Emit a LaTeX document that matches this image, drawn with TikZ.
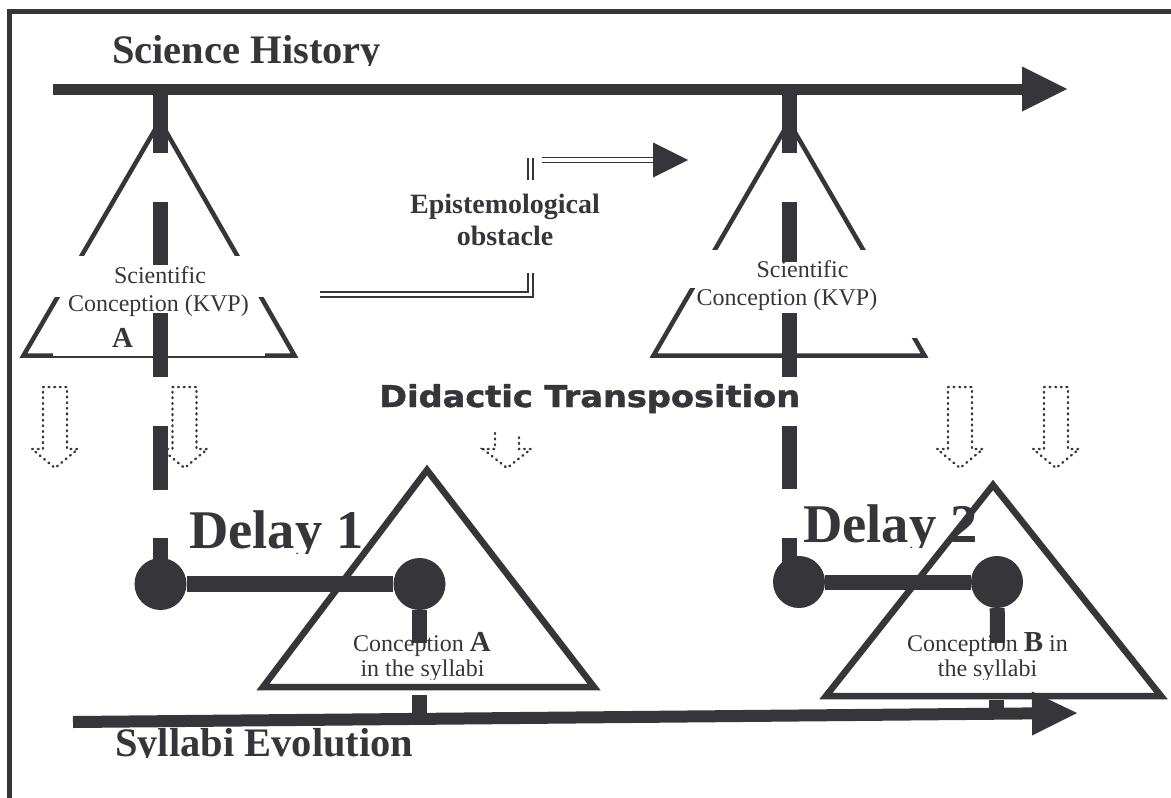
\documentclass[tikz,border=0pt]{standalone}
\usepackage{fontspec}
\setmainfont{Liberation Serif}
\newfontfamily\heavysans[FakeBold=1.4]{DejaVu Sans Bold}
\usepackage{graphicx}
\usetikzlibrary{arrows.meta}
\definecolor{ink}{RGB}{54,53,58}
\tikzset{
  lbl/.style={inner sep=0pt, text=ink},
  titletext/.style={lbl, anchor=base west, font=\bfseries\fontsize{40.5}{48}\selectfont},
  delaytext/.style={lbl, anchor=base west, font=\bfseries\fontsize{54.5}{60}\selectfont},
  conctext/.style={lbl, anchor=base, font=\fontsize{24}{28}\selectfont},
  obstext/.style={lbl, anchor=base, font=\bfseries\fontsize{28}{32}\selectfont},
  bigletter/.style={lbl, anchor=base, font=\bfseries\fontsize{29}{32}\selectfont},
  didtext/.style={lbl, anchor=base west, font=\heavysans\fontsize{30}{34}\selectfont},
  axisarrow/.style={draw=ink, line width=11pt, -{Triangle[length=45pt,width=45pt,line width=0pt]}},
  vbar/.style={draw=ink, line width=15pt},
  sidestroke/.style={draw=ink, line width=4.5pt, miter limit=20},
  bigtri/.style={draw=ink, line width=6.5pt, miter limit=20},
  dbl/.style={draw=ink, double=white, line width=1.8pt, double distance=3.2pt},
  dotline/.style={draw=ink, line width=2.4pt, dash pattern=on 0.9pt off 4.7pt, line cap=round},
  hub/.style={circle, fill=ink, minimum size=52pt, inner sep=0pt},
  hollowarrow/.pic={\path[dotline] (-12,0) -- (12,0) -- (12,62) -- (23,62) -- (0,81) -- (-23,62) -- (-12,62) -- cycle;}
}
\begin{document}
\begin{tikzpicture}[x=1pt,y=-1pt]
\useasboundingbox (0,0) rectangle (1171,798);
\clip (0,0) rectangle (1171,798);
% frame
\coordinate (fr1) at (9.5,830);
\coordinate (fr2) at (9.5,11);
\coordinate (fr3) at (1200,11);
\draw[ink, line width=5pt] (fr1) -- (fr2) -- (fr3);

% Science history axis
\begin{scope}
\clip (90,15) rectangle (420,65.5);
\node[titletext] (sh) at (112,63.5) {Science History};
\end{scope}
\coordinate (sh0) at (53,89);
\coordinate (sh1) at (1067,89);
\draw[axisarrow] (sh0) -- (sh1);

% upper left triangle
\draw[sidestroke] (53,355.5) -- (23.5,355.5) -- (160,121) -- (294.5,355.5) -- (265,355.5);
\draw[ink, line width=2pt] (53,356.5) -- (265,356.5);
\fill[white] (46,256) rectangle (272,297);
% upper right triangle
\draw[sidestroke] (653.5,355.5) -- (789,122) -- (924.5,355.5) -- cycle;
\fill[white] (668,250) rectangle (935,288);
\fill[white] (850,287) rectangle (935,338);

% dashed vertical bars
\node[hub] (c1l) at (160.5,584) {};
\node[hub] (c1r) at (419.5,584) {};
\node[hub] (c2l) at (799,582) {};
\node[hub] (c2r) at (997,582) {};
\coordinate (lb0) at (160,94);
\coordinate (lb1) at (160,584);
\draw[vbar, dash pattern=on 59pt off 49pt on 63pt off 48pt on 64pt off 49pt on 64pt off 48pt] (lb0) -- (lb1);
\coordinate (rb0) at (789.5,94);
\coordinate (rb1) at (789.5,575);
\draw[vbar, dash pattern=on 59pt off 49pt on 60pt off 51pt on 64pt off 49pt on 63pt off 49pt] (rb0) -- (rb1);

% scientific conception texts
\node[conctext] (sc1a) at (160,283) {Scientific};
\node[conctext] (sc1b) at (158.5,311) {Conception (KVP)};
\node[bigletter] (la) at (122.5,347) {A};
\node[conctext] (sc2a) at (802.5,277) {Scientific};
\node[conctext] (sc2b) at (787,305) {Conception (KVP)};

% epistemological obstacle
\node[obstext] (ob1) at (505,213) {Epistemological};
\node[obstext] (ob2) at (505,245) {obstacle};
\coordinate (eo1) at (320,294.5);
\coordinate (eo2) at (530.5,294.5);
\coordinate (eo3) at (530.5,273);
\draw[dbl] (eo1) -- (eo2) -- (eo3);
\coordinate (eo4) at (530.5,180);
\coordinate (eo5) at (530.5,158);
\draw[dbl] (eo4) -- (eo5);
\coordinate (eo6) at (542,160);
\coordinate (eo7) at (654,160);
\coordinate (eo8) at (688,160);
\draw[dbl] (eo6) -- (eo7);
\fill[ink] (653,142.5) -- (eo8) -- (653,177.5) -- cycle;

% didactic transposition
\node[didtext] (dt) at (379,407) {\scalebox{1.12}[1]{Didactic Transposition}};
\pic (pa1) at (55,387) {hollowarrow};
\pic (pa2) at (184.5,387) {hollowarrow};
\pic (pa3) at (960,387) {hollowarrow};
\pic (pa4) at (1056,387) {hollowarrow};
\path[dotline] (495,433) -- (495,449) -- (483,449) -- (507,468) -- (531,449) -- (519,449) -- (519,433);

% delays
\draw[ink, line width=16pt] (c1l) -- (c1r);
\coordinate (s1) at (419.5,643);
\draw[vbar] (c1r) -- (s1);
\draw[ink, line width=15pt] (c2l) -- (c2r);
\coordinate (s2) at (997.5,643);
\draw[vbar] (c2r) -- (s2);
\begin{scope}
\clip (150,480) rectangle (420,553);
\node[delaytext] (d1) at (189,548) {Delay 1};
\end{scope}
\begin{scope}
\clip (790,480) rectangle (1010,547);
\node[delaytext] (d2) at (803,542) {Delay 2};
\end{scope}

% syllabi conceptions
\node[conctext] (ca1) at (422,651) {Conception {\bfseries\fontsize{29}{32}\selectfont A}};
\begin{scope}
\clip (330,600) rectangle (510,679);
\node[conctext] (ca2) at (422.5,676.5) {in the syllabi};
\end{scope}
\node[conctext] (cb1) at (987.5,651) {Conception {\bfseries\fontsize{29}{32}\selectfont B} in};
\begin{scope}
\clip (900,600) rectangle (1080,679);
\node[conctext] (cb2) at (987.5,676.5) {the syllabi};
\end{scope}

% lower triangles
\draw[bigtri] (263,687) -- (427,470) -- (594,687) -- cycle;
\draw[bigtri] (826,696) -- (993,485) -- (1161,696) -- cycle;
\fill[ink] (412,695) rectangle (427,713);
\fill[ink] (989,700) rectangle (1004,713);

% syllabi evolution axis
\coordinate (se0) at (73,722);
\coordinate (se1) at (1077,713);
\draw[draw=ink, line width=12pt, -{Triangle[length=45pt,width=44pt,line width=0pt]}] (se0) -- (se1);
\begin{scope}
\clip (90,700) rectangle (450,757.5);
\node[titletext] (sy) at (115,756) {Syllabi Evolution};
\end{scope}
\end{tikzpicture}
\end{document}
